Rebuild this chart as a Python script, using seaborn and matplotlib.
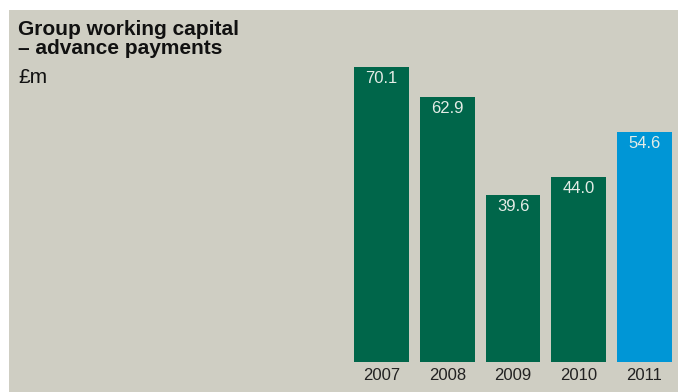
import matplotlib
matplotlib.use("Agg")
import matplotlib.pyplot as plt
import seaborn as sns
import pandas as pd
from matplotlib.patches import Rectangle

years = ["2007", "2008", "2009", "2010", "2011"]
values = [70.1, 62.9, 39.6, 44.0, 54.6]
groups = ["past", "past", "past", "past", "current"]

BG = "#cfcec3"
GREEN = "#00664a"
BLUE = "#0096d6"

sns.set_theme(style="white")
plt.rcParams["font.family"] = ["Liberation Sans", "DejaVu Sans"]

W, H = 678, 392
fig = plt.figure(figsize=(W / 100, H / 100), dpi=100)
fig.patch.set_facecolor("white")
# beige panel behind everything
fig.patches.append(Rectangle((9 / W, 0), 1 - 9 / W, 1 - 10 / H,
                             transform=fig.transFigure, facecolor=BG,
                             edgecolor="none", zorder=-1))

step = 65.75
left = 381.5 - 0.5 * step
bottom = 392 - 362
height = 80 * 4.21
ax = fig.add_axes([left / W, bottom / H, 5 * step / W, height / H])
ax.set_facecolor("none")

df = pd.DataFrame({"year": years, "value": values, "group": groups})
sns.barplot(data=df, x="year", y="value", hue="group",
            palette={"past": GREEN, "current": BLUE},
            width=0.836, dodge=False, legend=False, saturation=1,
            linewidth=0, edgecolor="none", ax=ax)

ax.set_xlim(-0.5, 4.5)
ax.set_ylim(0, 80)
for s in ax.spines.values():
    s.set_visible(False)
ax.set_yticks([])
ax.set_xlabel("")
ax.set_ylabel("")
ax.tick_params(axis="x", length=0, pad=4, labelsize=12, labelcolor="#222222")

for i, v in enumerate(values):
    ax.annotate(f"{v:.1f}", (i, v), xytext=(0, -3), textcoords="offset points",
                ha="center", va="top", fontsize=12, color="#e4ece6")

fig.text(18 / W, 1 - 35 / H, "Group working capital", fontsize=15,
         fontweight="bold", color="#111111", va="baseline", ha="left")
fig.text(18 / W, 1 - 54 / H, "– advance payments", fontsize=15,
         fontweight="bold", color="#111111", va="baseline", ha="left")
fig.text(18 / W, 1 - 83 / H, "£m", fontsize=15,
         color="#111111", va="baseline", ha="left")

fig.savefig("out.png", dpi=100, facecolor=fig.get_facecolor())
